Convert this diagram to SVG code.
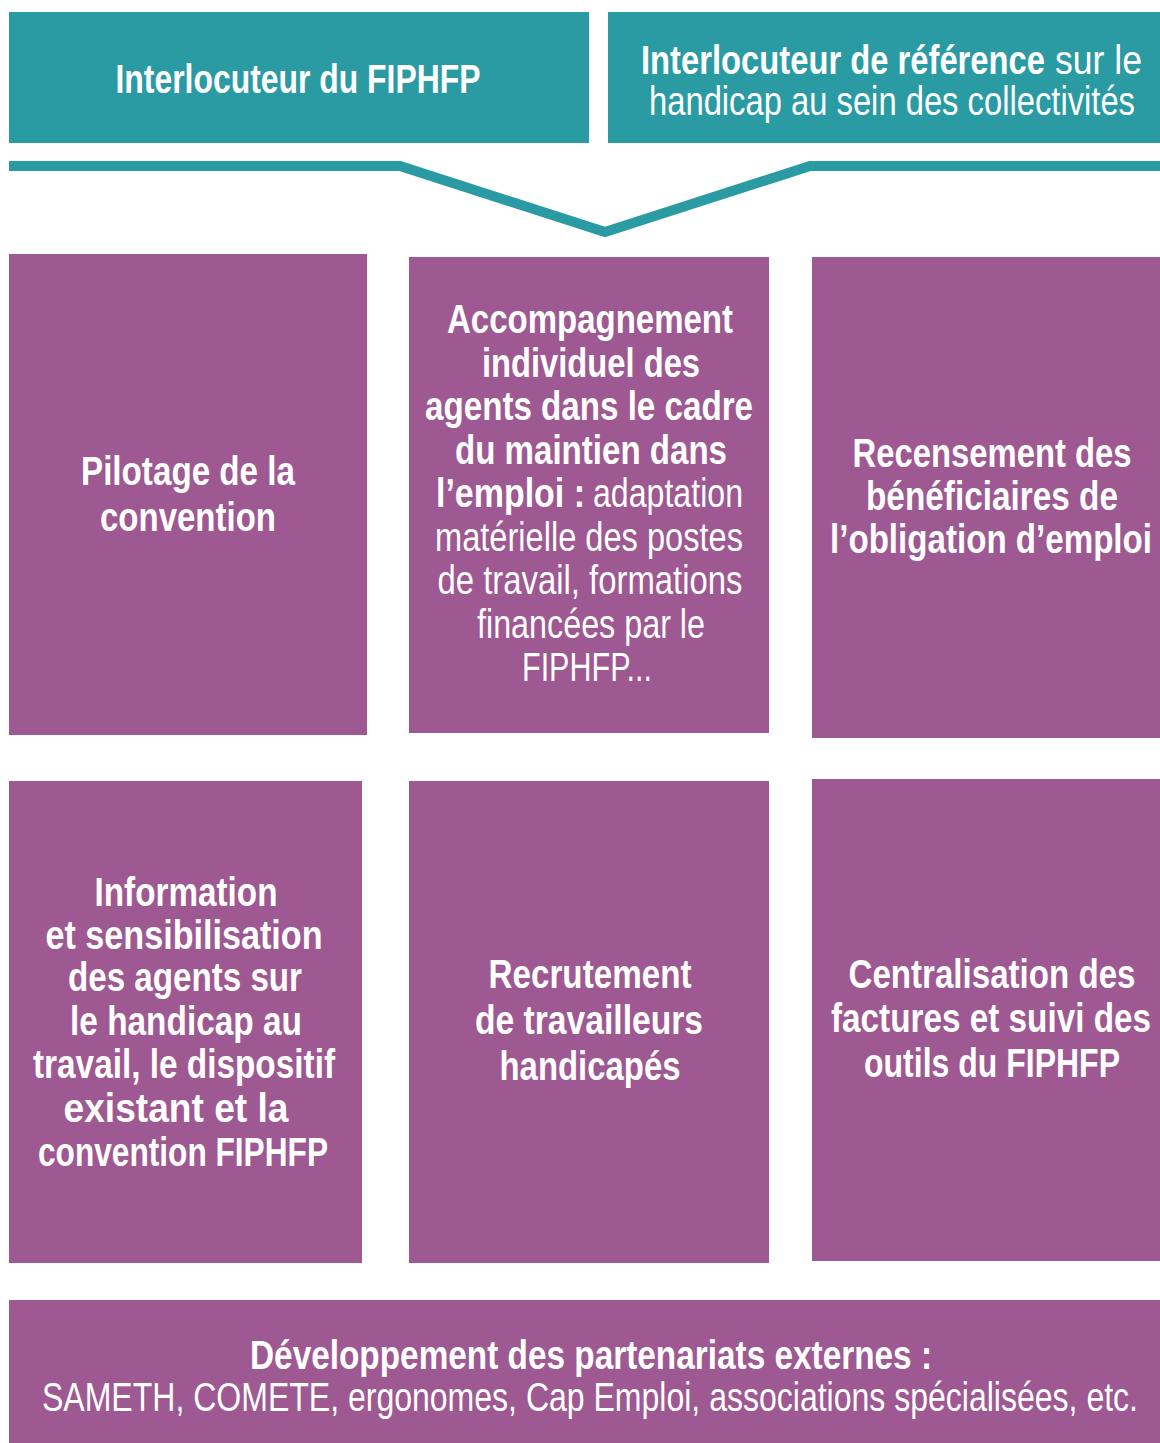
<svg xmlns="http://www.w3.org/2000/svg" width="1160" height="1443" viewBox="0 0 1160 1443">
<style>
.teal{fill:#2a9ba3}
.purple{fill:#9e5892}
.b{font-family:"Liberation Sans",Arial,sans-serif;font-weight:bold;font-size:40px;fill:#ffffff}
.r{font-family:"Liberation Sans",Arial,sans-serif;font-weight:normal;font-size:40px;fill:#ffffff}
.c{text-anchor:middle}
.conn{fill:none;stroke:#2a9ba3;stroke-width:10;stroke-linejoin:miter}
</style>
<rect width="1160" height="1443" fill="#ffffff"/>

<g id="node-interlocuteur-fiphfp">
<rect class="teal" x="9" y="12" width="580" height="131"/>
<text class="b c" x="298" y="93" textLength="365" lengthAdjust="spacingAndGlyphs">Interlocuteur du FIPHFP</text>
</g>

<g id="node-interlocuteur-reference">
<rect class="teal" x="608" y="12" width="552" height="131"/>
<text class="b" x="641" y="74" textLength="404" lengthAdjust="spacingAndGlyphs">Interlocuteur de référence</text>
<text class="r" x="1055" y="74" textLength="87" lengthAdjust="spacingAndGlyphs">sur le</text>
<text class="r c" x="892" y="115" textLength="486" lengthAdjust="spacingAndGlyphs">handicap au sein des collectivités</text>
</g>

<g id="connectors">
<polyline class="conn" points="9,166 400,166 605,232 810,166 1160,166"/>
</g>

<g id="node-pilotage">
<rect class="purple" x="9" y="254" width="358" height="481"/>
<text class="b c" x="188" y="485" textLength="214" lengthAdjust="spacingAndGlyphs">Pilotage de la</text>
<text class="b c" x="188" y="531" textLength="176" lengthAdjust="spacingAndGlyphs">convention</text>
</g>

<g id="node-accompagnement">
<rect class="purple" x="409" y="257" width="360" height="476"/>
<text class="b c" x="590" y="333" textLength="286" lengthAdjust="spacingAndGlyphs">Accompagnement</text>
<text class="b c" x="591" y="377" textLength="218" lengthAdjust="spacingAndGlyphs">individuel des</text>
<text class="b c" x="589" y="420" textLength="328" lengthAdjust="spacingAndGlyphs">agents dans le cadre</text>
<text class="b c" x="591" y="464" textLength="272" lengthAdjust="spacingAndGlyphs">du maintien dans</text>
<text class="b" x="436" y="507" textLength="149" lengthAdjust="spacingAndGlyphs">l’emploi :</text>
<text class="r" x="593" y="507" textLength="150" lengthAdjust="spacingAndGlyphs">adaptation</text>
<text class="r c" x="589" y="551" textLength="308" lengthAdjust="spacingAndGlyphs">matérielle des postes</text>
<text class="r c" x="590" y="594" textLength="305" lengthAdjust="spacingAndGlyphs">de travail, formations</text>
<text class="r c" x="591" y="638" textLength="228" lengthAdjust="spacingAndGlyphs">financées par le</text>
<text class="r c" x="587" y="681" textLength="130" lengthAdjust="spacingAndGlyphs">FIPHFP...</text>
</g>

<g id="node-recensement">
<rect class="purple" x="812" y="257" width="348" height="481"/>
<text class="b c" x="992" y="467" textLength="279" lengthAdjust="spacingAndGlyphs">Recensement des</text>
<text class="b c" x="992" y="510" textLength="252" lengthAdjust="spacingAndGlyphs">bénéficiaires de</text>
<text class="b c" x="991" y="553" textLength="322" lengthAdjust="spacingAndGlyphs">l’obligation d’emploi</text>
</g>

<g id="node-information">
<rect class="purple" x="9" y="781" width="353" height="482"/>
<text class="b c" x="186" y="906" textLength="183" lengthAdjust="spacingAndGlyphs">Information</text>
<text class="b c" x="184" y="949" textLength="277" lengthAdjust="spacingAndGlyphs">et sensibilisation</text>
<text class="b c" x="185" y="991" textLength="234" lengthAdjust="spacingAndGlyphs">des agents sur</text>
<text class="b c" x="186" y="1035" textLength="232" lengthAdjust="spacingAndGlyphs">le handicap au</text>
<text class="b c" x="184" y="1078" textLength="302" lengthAdjust="spacingAndGlyphs">travail, le dispositif</text>
<text class="b c" x="176" y="1122" textLength="225" lengthAdjust="spacingAndGlyphs">existant et la</text>
<text class="b c" x="183" y="1166" textLength="290" lengthAdjust="spacingAndGlyphs">convention FIPHFP</text>
</g>

<g id="node-recrutement">
<rect class="purple" x="409" y="781" width="360" height="482"/>
<text class="b c" x="590" y="988" textLength="203" lengthAdjust="spacingAndGlyphs">Recrutement</text>
<text class="b c" x="589" y="1034" textLength="228" lengthAdjust="spacingAndGlyphs">de travailleurs</text>
<text class="b c" x="590" y="1080" textLength="181" lengthAdjust="spacingAndGlyphs">handicapés</text>
</g>

<g id="node-centralisation">
<rect class="purple" x="812" y="779" width="348" height="482"/>
<text class="b c" x="992" y="988" textLength="287" lengthAdjust="spacingAndGlyphs">Centralisation des</text>
<text class="b c" x="991" y="1032" textLength="320" lengthAdjust="spacingAndGlyphs">factures et suivi des</text>
<text class="b c" x="992" y="1077" textLength="256" lengthAdjust="spacingAndGlyphs">outils du FIPHFP</text>
</g>

<g id="node-partenariats">
<rect class="purple" x="9" y="1300" width="1151" height="143"/>
<text class="b c" x="591" y="1369" textLength="682" lengthAdjust="spacingAndGlyphs">Développement des partenariats externes :</text>
<text class="r c" x="590" y="1411" textLength="1096" lengthAdjust="spacingAndGlyphs">SAMETH, COMETE, ergonomes, Cap Emploi, associations spécialisées, etc.</text>
</g>
</svg>
